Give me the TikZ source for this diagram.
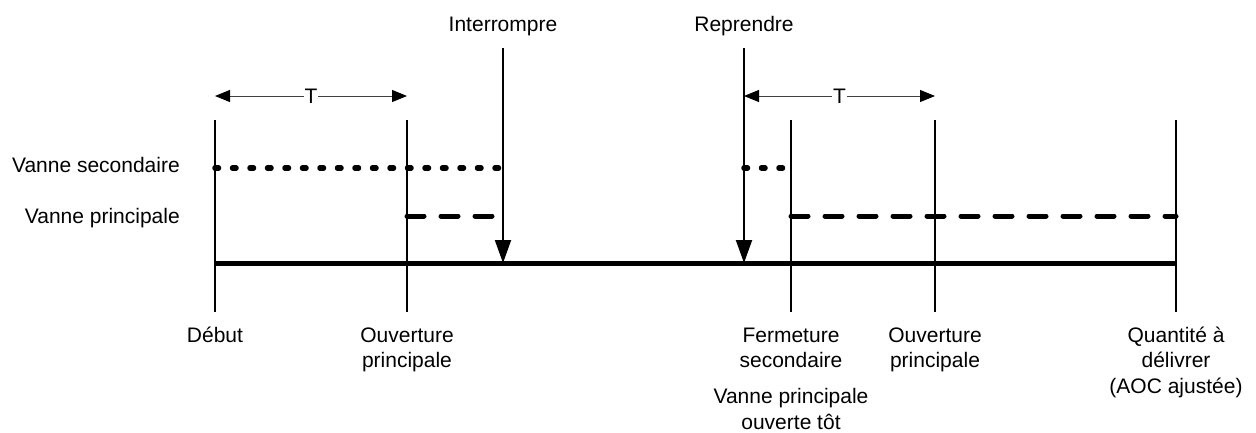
\documentclass[tikz,border=0pt]{standalone}
\usepackage{fontspec}
\setmainfont{Liberation Sans}
\usetikzlibrary{arrows.meta}
\begin{document}
\begin{tikzpicture}[x=1pt,y=-1pt,
  lbl/.style={inner sep=0pt, font=\fontsize{21}{25.5}\selectfont, align=center},
  tick/.style={line width=2pt},
  axis/.style={line width=5pt},
  sec/.style={line width=5.5pt, line cap=round, dash pattern=on 3.5pt off 14pt},
  prin/.style={line width=5pt, line cap=round, dash pattern=on 17pt off 17pt},
  evt/.style={line width=2pt, -{Triangle[length=23pt,width=16pt]}},
  span/.style={line width=1pt, draw=black!75, {Triangle[length=15pt,width=12pt,fill=black,color=black]}-{Triangle[length=15pt,width=12pt,fill=black,color=black]}}
]
\useasboundingbox (0,0) rectangle (1256,432);

% tick coordinates
\coordinate (atop) at (215,120); \coordinate (abot) at (215,312); \coordinate (aaxis) at (215,263);
\coordinate (btop) at (407,120); \coordinate (bbot) at (407,312);
\coordinate (ctop) at (791,120); \coordinate (cbot) at (791,312);
\coordinate (dtop) at (935,120); \coordinate (dbot) at (935,312);
\coordinate (etop) at (1176,120); \coordinate (ebot) at (1176,312); \coordinate (eaxis) at (1176,263);
\draw[tick] (atop) -- (abot);
\draw[tick] (btop) -- (bbot);
\draw[tick] (ctop) -- (cbot);
\draw[tick] (dtop) -- (dbot);
\draw[tick] (etop) -- (ebot);

% main axis
\draw[axis] (aaxis) -- (eaxis);

% event arrows
\node[lbl, anchor=base] (int) at (503,31) {Interrompre};
\node[lbl, anchor=base] (rep) at (744,31) {Reprendre};
\coordinate (intstart) at (503,48);
\coordinate (intend) at (503,263);
\coordinate (repstart) at (744,48);
\coordinate (repend) at (744,263);
\draw[evt] (intstart) -- (intend);
\draw[evt] (repstart) -- (repend);

% valve lines
\coordinate (s1a) at (215,168); \coordinate (s1b) at (499,168);
\coordinate (s2a) at (744,168); \coordinate (s2b) at (786,168);
\coordinate (p1a) at (407,216); \coordinate (p1b) at (495,216);
\coordinate (p2a) at (791,216); \coordinate (p2b) at (1176,216);
\draw[sec] (s1a) -- (s1b);
\draw[sec] (s2a) -- (s2b);
\draw[prin] (p1a) -- (p1b);
\draw[prin] (p2a) -- (p2b);

% T spans
\coordinate (t1a) at (215,96); \coordinate (t1b) at (407,96);
\coordinate (t2a) at (744,96); \coordinate (t2b) at (935,96);
\draw[span] (t1a) -- (t1b) node[midway, fill=white, inner sep=1pt, font=\fontsize{21}{25}\selectfont] (T1) {T};
\draw[span] (t2a) -- (t2b) node[midway, fill=white, inner sep=1pt, font=\fontsize{21}{25}\selectfont] (T2) {T};

% left labels
\node[lbl, anchor=base east] (vs) at (180,172) {Vanne secondaire};
\node[lbl, anchor=base east] (vp) at (180,223) {Vanne principale};

% bottom labels (base anchor = baseline of last line)
\node[lbl, anchor=base] (deb) at (215,342) {Début};
\node[lbl, anchor=base] (ouv1) at (407,367.5) {Ouverture\\principale};
\node[lbl, anchor=base] (ferm) at (791,367.5) {Fermeture\\secondaire};
\node[lbl, anchor=base] (tot) at (791,429) {Vanne principale\\ouverte tôt};
\node[lbl, anchor=base] (ouv2) at (935,367.5) {Ouverture\\principale};
\node[lbl, anchor=base] (qte) at (1176,393) {Quantité à\\délivrer\\(AOC ajustée)};
\end{tikzpicture}
\end{document}
